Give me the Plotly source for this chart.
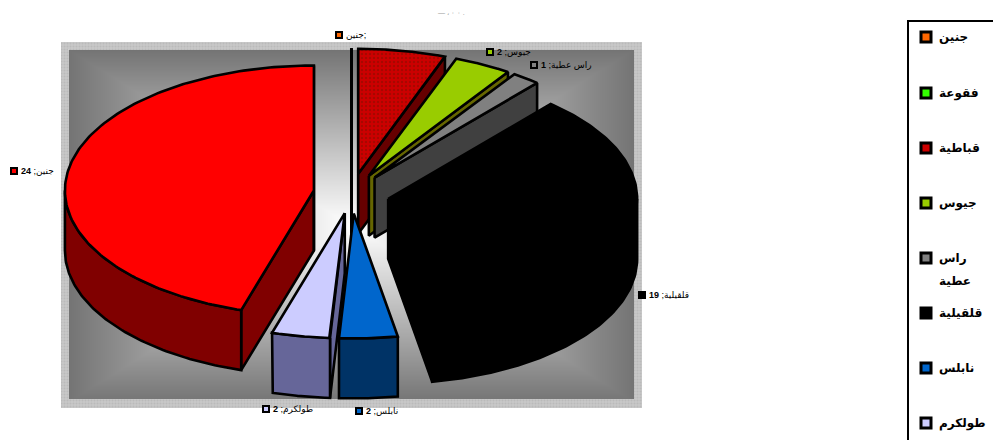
import numpy as np
import plotly.graph_objects as go

# ---- data ----
names = ["جنين", "فقوعة", "قباطية", "جيوس", "راس عطية", "قلقيلية", "نابلس", "طولكرم", "جنين"]
values = [0, 0, 3, 2, 1, 19, 2, 2, 24]
top_colors = ["#ff6600", "#33ff00", "#cc0000", "#99cc00", "#808080", "#000000", "#0066cc", "#ccccff", "#ff0000"]
wall_colors = ["#803300", "#1a8000", "#660000", "#666600", "#404040", "#000000", "#003366", "#666699", "#800000"]
dotted = [False, False, True, False, False, False, False, False, False]
legend_labels = ["جنين", "فقوعة", "قباطية", "جيوس", "راس<br>عطية", "قلقيلية", "نابلس", "طولكرم"]

# ---- style / layout constants ----
W, H = 993, 440
CX, CY = 351.5, 193.5        # pie centre on the page
RX, RY = 249, 125            # projected radii
EX, EY = 38, 20              # explosion offset
DEPTH = 60
LW = 2.6

fig = go.Figure()

# plot-area panel
px0, py0, px1, py1 = 61, 42, 642, 408
ix0, iy0, ix1, iy1 = 69, 50, 634, 399
gx = np.arange(ix0, ix1) + 0.5
gy = np.arange(iy0, iy1) + 0.5
mx, my = (ix0 + ix1) / 2, 226
t = np.maximum(np.abs(gx[None, :] - mx) / ((ix1 - ix0) / 2),
               np.abs(gy[:, None] - my) / max(my - iy0, iy1 - my))
shade = 255 - (255 - 116) * np.clip(t, 0, 1)
fig.add_trace(go.Heatmap(x=gx, y=gy, z=shade, zmin=0, zmax=255, showscale=False, hoverinfo="skip",
                         colorscale=[[0, "#000000"], [1, "#ffffff"]]))
# dotted frame round the panel: outer rectangle, then the inner one the other way round
fig.add_trace(go.Scatter(
    x=[px0, px1, px1, px0, px0, ix0, ix0, ix1, ix1, ix0, px0],
    y=[py0, py0, py1, py1, py0, iy0, iy1, iy1, iy0, iy0, py0],
    mode="lines", line=dict(width=0), fill="toself", hoverinfo="skip",
    fillpattern=dict(shape=".", bgcolor="#c8c8c8", fgcolor="#acacac", size=3, solidity=0.4)))


def poly(xs, ys, color, pattern=False):
    kw = {}
    if pattern:
        kw["fillpattern"] = dict(shape=".", bgcolor=color, fgcolor="#801000", size=4, solidity=0.3)
    fig.add_trace(go.Scatter(x=list(xs) + [xs[0]], y=list(ys) + [ys[0]], mode="lines",
                             line=dict(color="#000000", width=LW), fill="toself", fillcolor=color,
                             hoverinfo="skip", **kw))


# slices from the values
total = sum(values)
ends = np.cumsum(values) / total * 360
starts = ends - np.array(values) / total * 360
mids = (starts + ends) / 2
order = sorted(range(len(values)), key=lambda i: -np.cos(np.radians(mids[i])))

for i in order:
    a0, a1, m = starts[i], ends[i], np.radians(mids[i])
    ax, ay = CX + EX * np.sin(m), CY - EY * np.cos(m)
    rim_x = lambda d: ax + RX * np.sin(np.radians(d))
    rim_y = lambda d: ay - RY * np.cos(np.radians(d))
    # radial cut faces
    for edge, normal in ((a0, a0 - 90), (a1, a1 + 90)):
        if np.cos(np.radians(normal)) <= 1e-9:
            poly([ax, rim_x(edge), rim_x(edge), ax],
                 [ay, rim_y(edge), rim_y(edge) + DEPTH, ay + DEPTH], wall_colors[i])
    # outer curved face (only the part turned to the viewer)
    lo, hi = max(a0, 90), min(a1, 270)
    if hi > lo:
        th = np.linspace(lo, hi, 80)
        poly(list(rim_x(th)) + list(rim_x(th[::-1])),
             list(rim_y(th)) + list(rim_y(th[::-1]) + DEPTH), wall_colors[i])
    # top face
    th = np.linspace(a0, a1, 160)
    poly([ax] + list(rim_x(th)), [ay] + list(rim_y(th)), top_colors[i], dotted[i])

annotations = []

# data labels: index -> key position
label_keys = {0: (339, 35), 3: (490, 52), 4: (534, 65), 5: (642, 295), 6: (359, 411), 7: (266, 409), 8: (14, 171)}
for i, (kx, ky) in label_keys.items():
    fig.add_trace(go.Scatter(x=[kx], y=[ky], mode="markers", hoverinfo="skip",
                             marker=dict(symbol="square", size=6, color=top_colors[i],
                                         line=dict(color="#000000", width=2))))
    txt = f"{names[i]}; <b>{values[i]}</b>" if values[i] else f"{names[i]};"
    annotations.append(dict(x=kx + 5, y=ky, xref="x", yref="y", text=txt, showarrow=False,
                            xanchor="left", yanchor="middle", align="left",
                            font=dict(family="Liberation Sans, DejaVu Sans", size=9, color="#000000")))

# clipped title remnant
annotations.append(dict(x=451, y=12, xref="x", yref="y", text="— ، ٠ ٠ .", showarrow=False,
                        font=dict(family="Liberation Sans", size=7, color="#999999")))

# legend
legend_y = [37, 93, 148, 203, 258, 313, 368, 423]
for i, (lab, ly) in enumerate(zip(legend_labels, legend_y)):
    fig.add_trace(go.Scatter(x=[926], y=[ly], mode="markers", hoverinfo="skip",
                             marker=dict(symbol="square", size=10, color=top_colors[i],
                                         line=dict(color="#000000", width=3))))
    for n, part in enumerate(lab.split("<br>")):
        annotations.append(dict(x=937, y=ly + n * 23, xref="x", yref="y",
                                text=f"<b>{part}</b>", showarrow=False, xanchor="left",
                                yanchor="middle", align="left",
                                font=dict(family="Liberation Sans, DejaVu Sans", size=12, color="#000000")))

fig.update_layout(
    width=W, height=H, margin=dict(l=0, r=0, t=0, b=0), showlegend=False,
    paper_bgcolor="#ffffff", plot_bgcolor="#ffffff",
    xaxis=dict(range=[0, W], visible=False, fixedrange=True),
    yaxis=dict(range=[H, 0], visible=False, fixedrange=True),
    annotations=annotations,
    shapes=[dict(type="rect", xref="x", yref="y", x0=908, y0=21, x1=1010, y1=470,
                 line=dict(color="#000000", width=2), fillcolor="rgba(0,0,0,0)", layer="below")],
)
fig.write_html("out.html", config=dict(displayModeBar=False),
               post_script="document.body.style.margin='0';document.body.style.overflow='hidden';")
